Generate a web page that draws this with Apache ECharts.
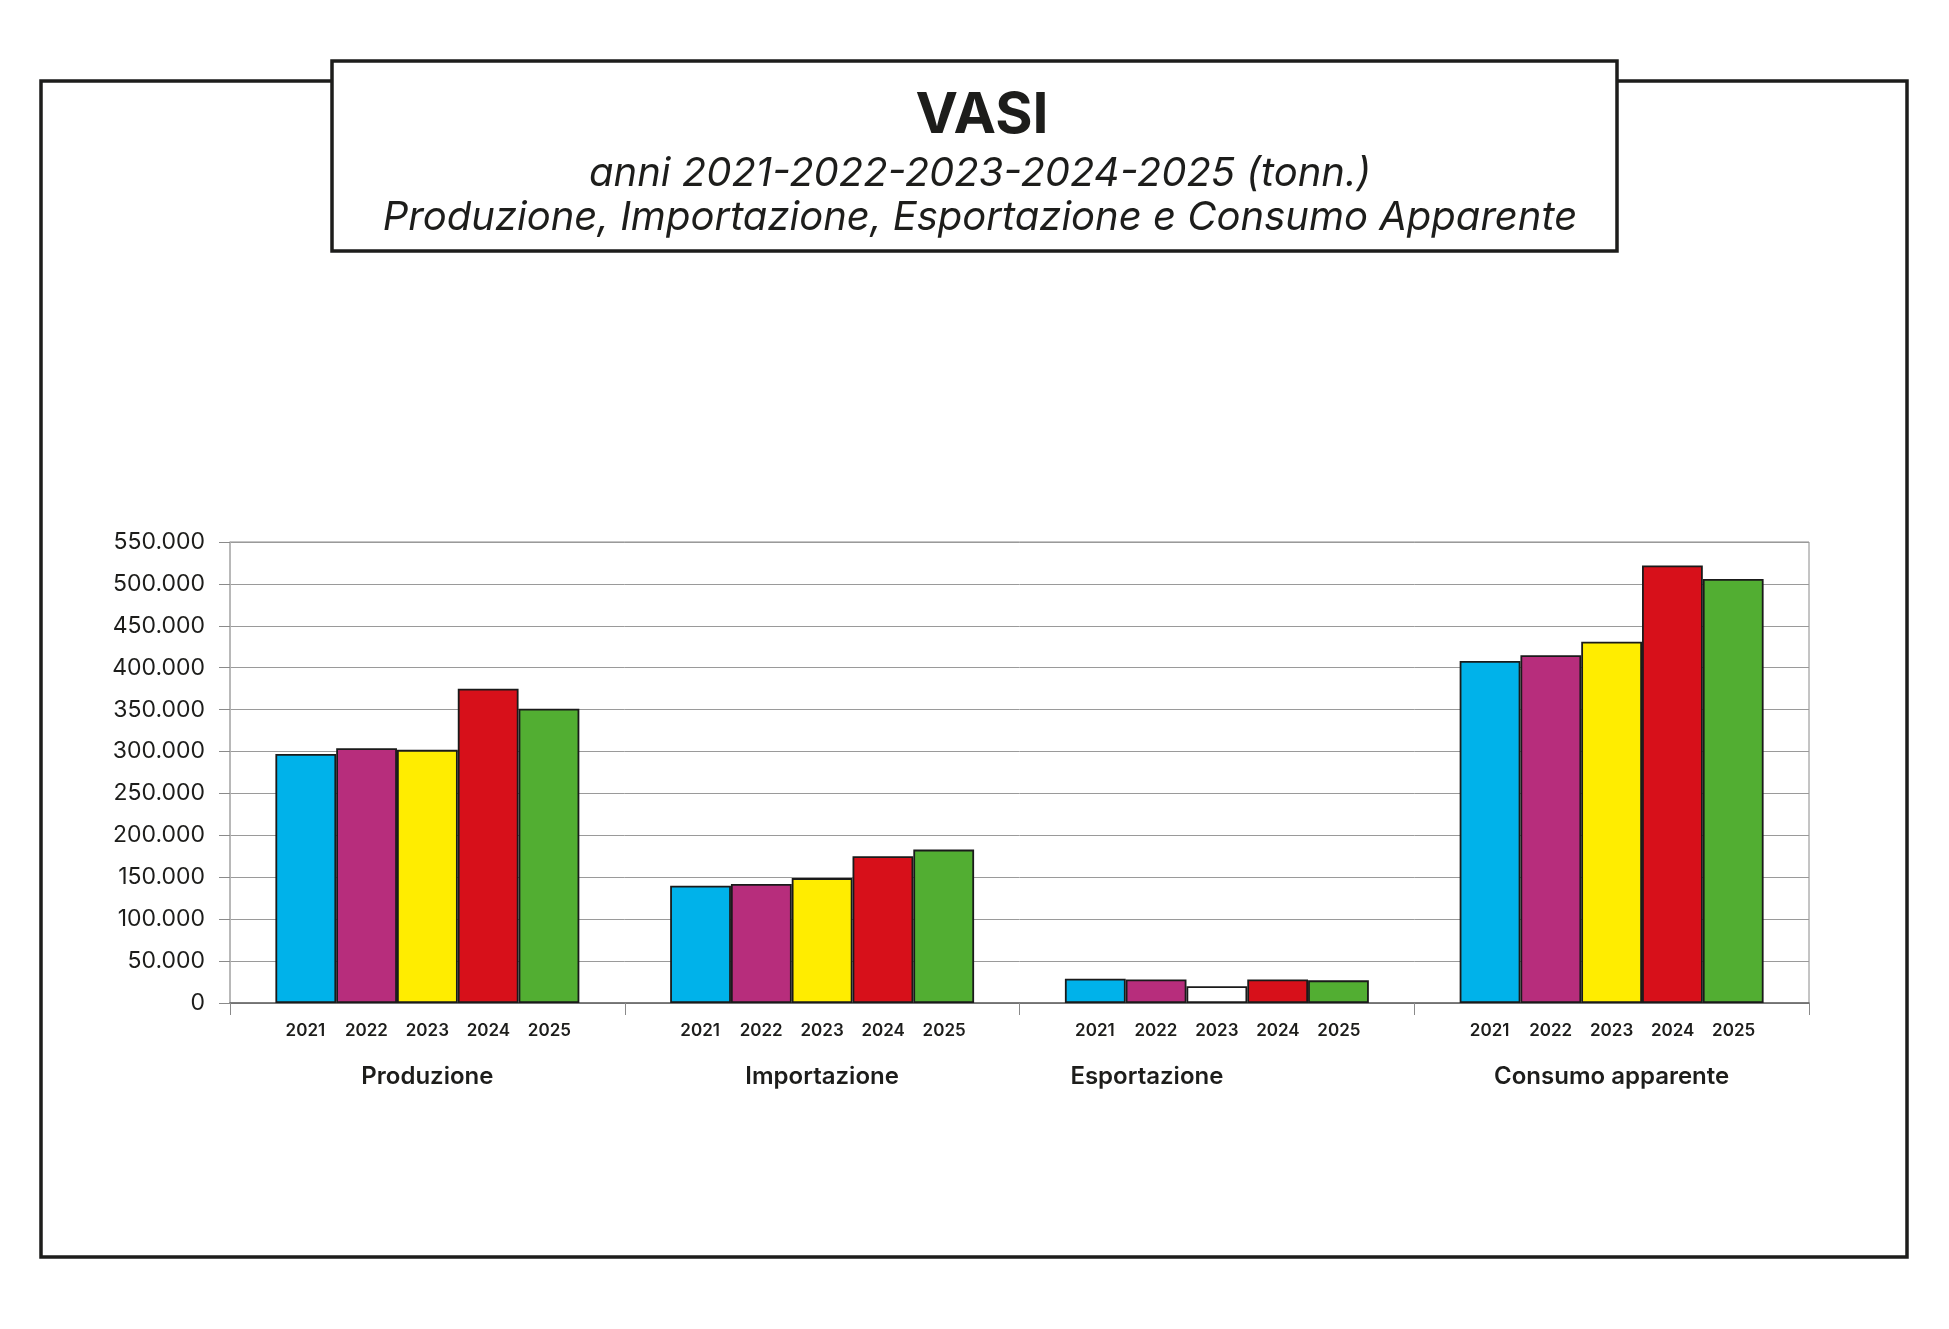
<!DOCTYPE html>
<html>
<head>
<meta charset="utf-8">
<title>VASI</title>
<script src="https://cdn.jsdelivr.net/npm/echarts@6/dist/echarts.min.js"></script>
<style>
  html, body { margin: 0; padding: 0; background: #fff; }
  #chart { width: 1949px; height: 1329px; }
</style>
</head>
<body>
<div id="chart"></div>
<script>
// dati (tonnellate)
const gruppi = ['Produzione', 'Importazione', 'Esportazione', 'Consumo apparente'];
const anni = ['2021', '2022', '2023', '2024', '2025'];
const produzione = [297000, 304000, 302000, 375000, 351000];
const importazione = [140000, 142000, 149000, 175000, 183000];
const esportazione = [29000, 28000, 20000, 28000, 27000];
const consumo = [408000, 415000, 431000, 522000, 506000];
const yTicks = { min: 0, max: 550000, interval: 50000 };

const colori = ['#00b2ea', '#b72d7c', '#ffed00', '#d7101a', '#52ae32'];
const testo = '#1d1d1b';
const font = 'Inter, "Open Sans", sans-serif';

// formato italiano: 550.000
function fmt(v) {
  return String(v).replace(/\B(?=(\d{3})+(?!\d))/g, '.');
}

const tabella = [produzione, importazione, esportazione, consumo];

// una serie per anno
const series = anni.map((anno, i) => ({
  name: anno,
  type: 'bar',
  barGap: 0,
  barCategoryGap: '23%',
  itemStyle: { color: colori[i], borderColor: '#1a1a1a', borderWidth: 1.8 },
  data: tabella.map((riga, g) => {
    // esportazione 2023 e' bianca nell'originale
    if (g === 2 && i === 2) {
      return { value: riga[i], itemStyle: { color: '#ffffff' } };
    }
    return riga[i];
  })
}));

const chart = echarts.init(document.getElementById('chart'));

chart.setOption({
  backgroundColor: '#fff',
  animation: false,
  graphic: [
    {
      type: 'rect',
      shape: { x: 41, y: 81, width: 1866, height: 1176 },
      style: { fill: 'none', stroke: '#1d1d1b', lineWidth: 3.5 }
    },
    {
      type: 'rect',
      shape: { x: 332, y: 61, width: 1285, height: 190 },
      style: { fill: '#fff', stroke: '#1d1d1b', lineWidth: 3.5 }
    }
  ],
  title: [
    {
      text: 'VASI',
      left: 977,
      top: 79,
      textAlign: 'center',
      textStyle: { fontFamily: font, fontSize: 57, fontWeight: 700, color: testo, lineHeight: 64 },
      z: 10
    },
    {
      text: 'anni 2021-2022-2023-2024-2025 (tonn.)\nProduzione, Importazione, Esportazione e Consumo Apparente',
      left: 975,
      top: 147,
      textAlign: 'center',
      textStyle: { fontFamily: font, fontSize: 40, fontWeight: 400, fontStyle: 'italic', color: testo, lineHeight: 44 },
      z: 10
    }
  ],
  grid: {
    left: 230,
    right: 140,
    top: 542,
    bottom: 326,
    show: true,
    borderColor: '#8a8a8a',
    borderWidth: 1
  },
  xAxis: {
    type: 'category',
    data: gruppi,
    axisLine: { lineStyle: { color: '#666', width: 1.5 } },
    axisTick: { show: true, length: 12, lineStyle: { color: '#8a8a8a' } },
    axisLabel: {
      margin: 17,
      interval: 0,
      color: testo,
      fontFamily: font,
      formatter: (val, idx) => {
        const riga = anni.map(a => '{y|' + a + '}').join('');
        const stile = idx === 2 ? 'ge' : 'g';
        return riga + '\n{' + stile + '|' + val + '}';
      },
      rich: {
        y: { width: 61, align: 'center', fontSize: 17, fontWeight: 600, fontFamily: font, color: testo, lineHeight: 22 },
        g: { fontSize: 24, fontWeight: 600, fontFamily: font, color: testo, lineHeight: 70, align: 'center' },
        ge: { fontSize: 24, fontWeight: 600, fontFamily: font, color: testo, lineHeight: 70, align: 'center', padding: [0, 140, 0, 0] }
      }
    }
  },
  yAxis: {
    type: 'value',
    min: yTicks.min,
    max: yTicks.max,
    interval: yTicks.interval,
    axisLine: { show: true, lineStyle: { color: '#b5b5b5', width: 1.5 } },
    axisTick: { show: true, length: 11, lineStyle: { color: '#8a8a8a' } },
    splitLine: { lineStyle: { color: '#9a9a9a', width: 1 } },
    axisLabel: {
      margin: 25,
      fontSize: 23,
      fontFamily: font,
      color: testo,
      formatter: v => fmt(v)
    }
  },
  series: series
});
</script>
</body>
</html>
